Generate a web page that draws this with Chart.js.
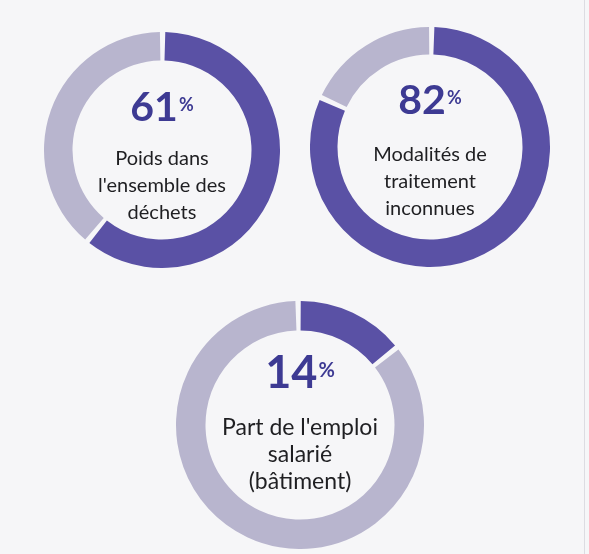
<!DOCTYPE html>
<html><head><meta charset="utf-8">
<script src="https://cdn.jsdelivr.net/npm/chart.js@4.4.0/dist/chart.umd.min.js"></script>
<style>
html,body{margin:0;padding:0;width:589px;height:554px;overflow:hidden;background:#f6f6f8;font-family:Lato,"Open Sans",sans-serif;}
#stage{position:relative;width:589px;height:554px;}
.holder{position:absolute;}
.cap{position:absolute;text-align:center;color:#1f1f22;white-space:nowrap;}
.pct{position:absolute;text-align:center;color:#3d3a93;font-weight:700;white-space:nowrap;}
.pct span{position:relative;font-weight:700;}
#edge{position:absolute;left:584px;top:0;width:1px;height:554px;background:#dcdce2;}
</style>
</head><body>
<div id="stage"><div id="edge"></div></div>
<script>
// ---- data ----
const shareValues = [61, 82, 14];
const remainderValues = [39, 18, 86];
const segmentNames = ["Part", "Reste"];
const captionLines = [
  ["Poids dans", "l'ensemble des", "déchets"],
  ["Modalités de", "traitement", "inconnues"],
  ["Part de l'emploi", "salarié", "(bâtiment)"]
];
// ---- layout / style ----
const darkColor = "#5a51a5";
const lightColor = "#b8b5ce";
const layout = [
  {cx:162, cy:150, r:116, w:28, pctTop:85, pctSize:41, pctSym:18, capTop:144, capSize:20, lh:27},
  {cx:430, cy:147, r:118, w:27, pctTop:78, pctSize:41, pctSym:18, capTop:140, capSize:20, lh:27},
  {cx:300, cy:425, r:122, w:29, pctTop:349, pctSize:45, pctSym:20, capTop:413, capSize:23, lh:27}
];
const stage = document.getElementById('stage');
layout.forEach((L, i) => {
  const pad = 2;
  const size = 2 * L.r + 2 * pad;
  const holder = document.createElement('div');
  holder.className = 'holder';
  holder.style.left = (L.cx - L.r - pad) + 'px';
  holder.style.top = (L.cy - L.r - pad) + 'px';
  holder.style.width = size + 'px';
  holder.style.height = size + 'px';
  const cv = document.createElement('canvas');
  cv.width = size; cv.height = size;
  cv.style.width = size + 'px'; cv.style.height = size + 'px';
  holder.appendChild(cv);
  stage.appendChild(holder);
  new Chart(cv, {
    type: 'doughnut',
    data: {
      labels: segmentNames,
      datasets: [{
        data: [shareValues[i], remainderValues[i]],
        backgroundColor: [darkColor, lightColor],
        borderWidth: 0,
        spacing: 3,
        hoverOffset: 0,
        offset: 0
      }]
    },
    options: {
      responsive: false,
      animation: false,
      events: [],
      cutout: L.r - L.w,
      rotation: 0,
      layout: {padding: 0},
      plugins: {legend: {display: false}, tooltip: {enabled: false}}
    }
  });
  const pct = document.createElement('div');
  pct.className = 'pct';
  pct.style.left = (L.cx - 150) + 'px';
  pct.style.width = '300px';
  pct.style.top = L.pctTop + 'px';
  pct.style.fontSize = L.pctSize + 'px';
  pct.style.lineHeight = L.pctSize + 'px';
  const num = document.createTextNode(String(shareValues[i]));
  const sup = document.createElement('span');
  sup.textContent = '%';
  sup.style.fontSize = L.pctSym + 'px';
  sup.style.top = (-L.pctSize * 0.24) + 'px';
  sup.style.marginLeft = '1px';
  pct.appendChild(num); pct.appendChild(sup);
  stage.appendChild(pct);
  captionLines[i].forEach((t, k) => {
    const d = document.createElement('div');
    d.className = 'cap';
    d.textContent = t;
    d.style.left = (L.cx - 150) + 'px';
    d.style.width = '300px';
    d.style.top = (L.capTop + k * L.lh) + 'px';
    d.style.fontSize = L.capSize + 'px';
    d.style.lineHeight = L.lh + 'px';
    stage.appendChild(d);
  });
});
</script>
</body></html>
